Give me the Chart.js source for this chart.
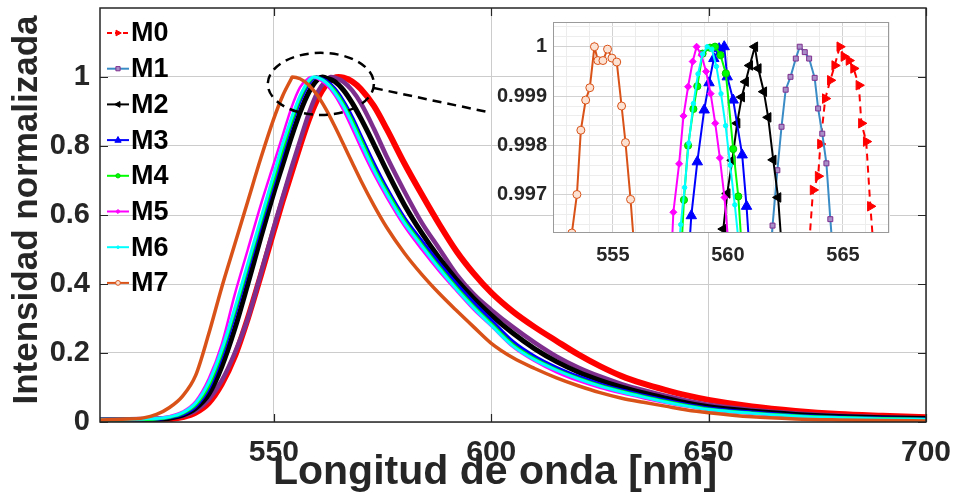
<!DOCTYPE html>
<html><head><meta charset="utf-8">
<script src="https://cdn.jsdelivr.net/npm/chart.js@4.4.1/dist/chart.umd.min.js"></script>
<style>
html,body{margin:0;padding:0;background:#fff;}
#wrap{position:relative;width:955px;height:497px;overflow:hidden;}
#main{position:absolute;left:0;top:0;}
#inset{position:absolute;left:480px;top:10px;}
</style></head><body>
<div id="wrap">
<canvas id="main" width="955" height="497"></canvas>
<canvas id="inset" width="420" height="270"></canvas>
</div>
<script>
// ---------------- DATA ----------------
const seriesNames = ['M0','M1','M2','M3','M4','M5','M6','M7'];
const wavelength = [510,515,520,523,526,529,532,535,538,541,544,547,550,552,554,556,558,560,562,564,566,568,570,573,576,580,584,588,592,596,600,605,610,615,620,625,630,635,640,645,650,660,670,680,690,700];
const m0 = [.005,.005,.005,.006,.008,.014,.027,.055,.11,.19,.30,.425,.555,.64,.72,.80,.875,.935,.977,.998,.998,.987,.965,.916,.848,.75,.66,.574,.495,.43,.375,.32,.275,.235,.196,.162,.133,.111,.093,.077,.064,.045,.032,.023,.018,.014];
const m1 = [.008,.008,.009,.01,.012,.018,.033,.065,.12,.2,.30,.43,.565,.65,.735,.815,.893,.955,.99,.998,.986,.961,.924,.85,.768,.669,.578,.503,.428,.37,.325,.275,.23,.19,.158,.132,.11,.092,.076,.062,.05,.035,.025,.018,.014,.011];
const m2 = [.005,.005,.006,.007,.011,.02,.04,.08,.16,.27,.40,.535,.665,.745,.825,.897,.955,.992,.997,.987,.962,.925,.88,.805,.727,.63,.548,.476,.413,.358,.31,.257,.212,.175,.145,.121,.101,.084,.069,.055,.044,.031,.022,.016,.012,.01];
const m3 = [.006,.006,.007,.008,.013,.022,.045,.097,.19,.31,.44,.57,.695,.78,.86,.93,.98,.9995,.989,.966,.93,.884,.83,.75,.677,.592,.525,.46,.40,.345,.295,.233,.19,.158,.132,.11,.092,.077,.063,.05,.04,.028,.019,.014,.011,.009];
const m4 = [.006,.006,.007,.009,.014,.025,.05,.105,.20,.32,.45,.58,.705,.79,.868,.938,.985,.999,.986,.96,.922,.874,.82,.738,.668,.584,.515,.45,.39,.335,.285,.224,.183,.152,.127,.106,.089,.074,.06,.048,.038,.026,.018,.013,.01,.008];
const m5 = [.008,.008,.009,.011,.017,.03,.06,.125,.225,.37,.50,.63,.75,.83,.91,.97,.997,.995,.978,.947,.903,.85,.795,.718,.65,.568,.50,.437,.38,.325,.278,.217,.176,.144,.119,.099,.083,.069,.056,.045,.035,.024,.016,.011,.008,.006];
const m6 = [.008,.008,.009,.010,.015,.027,.055,.115,.21,.33,.46,.59,.72,.805,.88,.945,.99,.998,.984,.955,.915,.865,.81,.73,.66,.577,.51,.445,.385,.33,.28,.22,.18,.15,.125,.104,.087,.072,.058,.046,.036,.025,.017,.012,.009,.007];
const m7 = [.006,.008,.012,.022,.042,.075,.135,.255,.39,.515,.64,.765,.88,.945,.995,.995,.977,.947,.906,.857,.805,.752,.70,.628,.563,.49,.428,.373,.323,.275,.228,.186,.155,.128,.105,.085,.069,.057,.046,.035,.027,.015,.009,.006,.004,.003];
const peakWavelength = [564.86,563.12,561.17,559.84,559.44,558.64,559.1,554.2];
const xTicksMain = [550,600,650,700];
const yTicksMain = [0,0.2,0.4,0.6,0.8,1];
const yTickLabelsMain = ['0','0.2','0.4','0.6','0.8','1'];

// inset (zoom near the peaks)
const insetM0x = [563.50,563.70,563.92,564.02,564.23,564.45,564.64,564.86,565.04,565.26,565.46,565.69,565.80,566.01,566.19,566.35];
const insetM0y = [0.9958,0.9971,0.99738,0.99803,0.99895,0.99932,0.99962,1.0,0.9998,0.99972,0.99956,0.99922,0.99845,0.99808,0.99677,0.9958];
const insetM1x = [561.80,561.94,562.15,562.33,562.51,562.72,562.95,563.12,563.34,563.53,563.77,563.92,564.10,564.28,564.45,564.60];
const insetM1y = [0.9955,0.99638,0.9975,0.99838,0.99913,0.99939,0.99976,1.0,0.99989,0.99976,0.99937,0.99875,0.99824,0.99764,0.99651,0.9956];
const insetM2x = [559.80,559.97,560.19,560.40,560.60,560.77,560.95,561.17,561.32,561.56,561.75,561.97,562.18,562.36];
const insetM2y = [0.99631,0.99703,0.9977,0.99845,0.99898,0.99929,0.99962,1.0,0.99956,0.99909,0.99857,0.99771,0.99695,0.9958];
const insetM3x = [558.30,558.41,558.67,558.97,559.18,559.39,559.62,559.84,559.97,560.23,560.62,560.81,560.95];
const insetM3y = [0.9958,0.99658,0.99767,0.99872,0.99927,0.99976,0.99996,1.0,0.99939,0.99892,0.99781,0.99677,0.9958];
const insetM4x = [557.97,558.09,558.27,558.50,558.67,558.90,559.22,559.44,559.68,559.91,560.23,560.45,560.62];
const insetM4y = [0.9958,0.9969,0.9980,0.99874,0.9992,0.99986,0.99998,1.0,0.99983,0.99946,0.99793,0.99697,0.9958];
const insetM5x = [557.55,557.63,557.88,558.07,558.27,558.47,558.64,558.85,559.05,559.25,559.45,559.65,559.85,560.10];
const insetM5y = [0.9958,0.99665,0.99763,0.9986,0.99919,0.9997,1.0,0.99983,0.9995,0.99905,0.99845,0.99775,0.99695,0.9956];
const insetM6x = [557.85,557.95,558.12,558.30,558.50,558.70,558.90,559.10,559.30,559.50,559.70,559.90,560.10,560.30,560.50];
const insetM6y = [0.9958,0.9964,0.99715,0.99805,0.99885,0.99945,0.99985,1.0,0.99995,0.9996,0.99905,0.9984,0.9976,0.9968,0.9959];
const insetM7x = [553.22,553.44,553.61,553.82,554.00,554.20,554.35,554.57,554.77,554.96,555.17,555.38,555.55,555.77,555.95];
const insetM7y = [0.99623,0.99701,0.99831,0.99892,0.99917,1.0,0.99972,0.99972,0.99995,0.99977,0.99969,0.9988,0.99806,0.99691,0.9958];
const xTicksInset = [555,560,565];
const yTicksInset = [0.997,0.998,0.999,1];
const yTickLabelsInset = ['0.997','0.998','0.999','1'];

// ---------------- STYLE ----------------
const FONT = '"Liberation Sans", Arial, Helvetica, sans-serif';
Chart.defaults.font.family = FONT;
const colors = ['#ff0000','#7e2f8e','#000000','#0000ff','#00ff00','#ff00ff','#00ffff','#d95319'];
const mainWidths = [6,4.5,5,3.5,3,2.5,3,3.5];
const insetLineColors = ['#ff0000','#3a8cc6','#000000','#0000ff','#00ff00','#ff00ff','#00ffff','#d95319'];
const markerStyles = [
  {s:'triangle', rot:90, r:5.5, fill:'#ff0000', stroke:'#ff0000'},
  {s:'rect', rot:0, r:3.5, fill:'#a98fc8', stroke:'#7e2f8e'},
  {s:'triangle', rot:-90, r:5.5, fill:'#000000', stroke:'#000000'},
  {s:'triangle', rot:0, r:6, fill:'#0000ff', stroke:'#0000ff'},
  {s:'circle', rot:0, r:3.6, fill:'#00ff00', stroke:'#00cc00'},
  {s:'rectRot', rot:0, r:3.5, fill:'#ff00ff', stroke:'#ff00ff'},
  {s:'circle', rot:0, r:2.2, fill:'#00ffff', stroke:'#00ffff'},
  {s:'circle', rot:0, r:4, fill:'#fbe2d3', stroke:'#d95319'}
];

function drawMarker(ctx, m, x, y, scale){
  const r = m.r * (scale||1);
  ctx.save(); ctx.translate(x,y); ctx.rotate(m.rot*Math.PI/180);
  ctx.beginPath();
  if(m.s==='circle'){ctx.arc(0,0,r,0,2*Math.PI);}
  else if(m.s==='rect'){ctx.rect(-r,-r,2*r,2*r);}
  else if(m.s==='rectRot'){ctx.moveTo(0,-r);ctx.lineTo(r,0);ctx.lineTo(0,r);ctx.lineTo(-r,0);ctx.closePath();}
  else {ctx.moveTo(0,-r);ctx.lineTo(r*0.87,r*0.6);ctx.lineTo(-r*0.87,r*0.6);ctx.closePath();}
  ctx.fillStyle=m.fill; ctx.fill(); ctx.strokeStyle=m.stroke; ctx.lineWidth=1; ctx.stroke();
  ctx.restore();
}

// ---------------- MAIN CHART ----------------
const mainSeries = [m0,m1,m2,m3,m4,m5,m6,m7];
function buildMain(i){
  const pts = wavelength.map((x,k)=>({x:x, y:mainSeries[i][k]}));
  pts.push({x:peakWavelength[i], y:1});
  pts.sort((a,b)=>a.x-b.x);
  return pts;
}

const zoomEllipse = {cx:560.8, cy:0.98, rx:12.2, ry:0.09};
const zoomConnector = {x1:573.0, y1:0.968, x2:599.0, y2:0.899};

const mainDeco = {
  id:'mainDeco',
  afterDraw(chart){
    const ctx = chart.ctx, a = chart.chartArea, xs = chart.scales.x, ys = chart.scales.y;
    ctx.save();
    ctx.strokeStyle='#262626'; ctx.lineWidth=1.2;
    xTicksMain.forEach(v=>{const px=Math.round(xs.getPixelForValue(v))+0.5;
      ctx.beginPath();ctx.moveTo(px,a.bottom);ctx.lineTo(px,a.bottom-8);ctx.moveTo(px,a.top);ctx.lineTo(px,a.top+8);ctx.stroke();});
    yTicksMain.forEach(v=>{const py=Math.round(ys.getPixelForValue(v))+0.5;
      ctx.beginPath();ctx.moveTo(a.left,py);ctx.lineTo(a.left+8,py);ctx.moveTo(a.right,py);ctx.lineTo(a.right-8,py);ctx.stroke();});
    ctx.lineWidth=1.5; ctx.strokeStyle='#262626';
    ctx.strokeRect(a.left,a.top,a.right-a.left,a.bottom-a.top);
    ctx.setLineDash([9,6]); ctx.lineWidth=2.5; ctx.strokeStyle='#000';
    const cx=xs.getPixelForValue(zoomEllipse.cx), cy=ys.getPixelForValue(zoomEllipse.cy);
    const rx=xs.getPixelForValue(zoomEllipse.cx+zoomEllipse.rx)-cx, ry=cy-ys.getPixelForValue(zoomEllipse.cy+zoomEllipse.ry);
    ctx.beginPath(); ctx.ellipse(cx,cy,rx,ry,0,0,2*Math.PI); ctx.stroke();
    ctx.beginPath(); ctx.moveTo(xs.getPixelForValue(zoomConnector.x1), ys.getPixelForValue(zoomConnector.y1));
    ctx.lineTo(xs.getPixelForValue(zoomConnector.x2), ys.getPixelForValue(zoomConnector.y2)); ctx.stroke();
    ctx.setLineDash([]);
    seriesNames.forEach((n,i)=>{
      const y = 33 + i*35.7;
      ctx.strokeStyle = insetLineColors[i]; ctx.lineWidth=2;
      if(i===0) ctx.setLineDash([5,3]); else ctx.setLineDash([]);
      ctx.beginPath(); ctx.moveTo(107,y); ctx.lineTo(129,y); ctx.stroke();
      ctx.setLineDash([]);
      drawMarker(ctx, markerStyles[i], 118, y, 0.6);
      ctx.fillStyle='#000'; ctx.font='bold 27px '+FONT; ctx.textAlign='left'; ctx.textBaseline='middle';
      ctx.fillText(n, 131, y+1);
    });
    ctx.fillStyle='#262626';
    ctx.font='bold 41px '+FONT; ctx.textAlign='center'; ctx.textBaseline='alphabetic';
    ctx.fillText('Longitud de onda [nm]', 495, 484);
    ctx.translate(27,210); ctx.rotate(-Math.PI/2);
    ctx.font='bold 35px '+FONT; ctx.textBaseline='middle';
    ctx.fillText('Intensidad normalizada', 0, 0);
    ctx.restore();
  }
};

new Chart(document.getElementById('main'), {
  type:'line',
  data:{datasets: seriesNames.map((n,i)=>({
    label:n, data:buildMain(i), borderColor:colors[i], backgroundColor:colors[i],
    borderWidth:mainWidths[i], pointRadius:0, cubicInterpolationMode:'monotone', fill:false, order:7-i
  }))},
  options:{
    responsive:false, animation:false, devicePixelRatio:1,
    layout:{padding:{top:8,right:29,left:0,bottom:0}},
    plugins:{legend:{display:false}, tooltip:{enabled:false}},
    scales:{
      x:{type:'linear', min:510, max:700,
        afterBuildTicks:s=>{s.ticks = xTicksMain.map(v=>({value:v}));},
        afterFit:s=>{s.height=75; s.paddingLeft=0; s.paddingRight=0;},
        ticks:{font:{size:30,weight:'bold'}, color:'#262626', padding:13, maxRotation:0, autoSkip:false, callback:v=>String(v)},
        grid:{color:'#cccccc', drawTicks:false, lineWidth:1}, border:{display:false}},
      y:{type:'linear', min:0, max:1.2,
        afterBuildTicks:s=>{s.ticks = yTicksMain.map(v=>({value:v}));},
        afterFit:s=>{s.width=100; s.paddingTop=0; s.paddingBottom=0;},
        ticks:{font:{size:29,weight:'bold'}, color:'#262626', padding:10, autoSkip:false, callback:(v,i)=>yTickLabelsMain[i]},
        grid:{color:'#cccccc', drawTicks:false, lineWidth:1}, border:{display:false}}
    }
  },
  plugins:[mainDeco]
});

// ---------------- INSET CHART ----------------
const insetX = [insetM0x,insetM1x,insetM2x,insetM3x,insetM4x,insetM5x,insetM6x,insetM7x];
const insetY = [insetM0y,insetM1y,insetM2y,insetM3y,insetM4y,insetM5y,insetM6y,insetM7y];
const near = (a,b,e)=>Math.abs(a-b)<e;

const insetDeco = {
  id:'insetDeco',
  beforeDraw(chart){
    const ctx=chart.ctx,a=chart.chartArea; ctx.save(); ctx.fillStyle='#fff';
    ctx.fillRect(a.left,a.top,a.right-a.left,a.bottom-a.top); ctx.restore();
  },
  afterDraw(chart){
    const ctx=chart.ctx,a=chart.chartArea; ctx.save(); ctx.strokeStyle='#9a9a9a'; ctx.lineWidth=1;
    ctx.strokeRect(a.left+0.5,a.top+0.5,a.right-a.left-1,a.bottom-a.top-1); ctx.restore();
  }
};

new Chart(document.getElementById('inset'), {
  type:'line',
  data:{datasets: seriesNames.map((n,i)=>({
    label:n, data: insetX[i].map((x,k)=>({x:x,y:insetY[i][k]})),
    borderColor:insetLineColors[i], borderWidth:2, borderDash: i===0?[7,5]:[],
    pointStyle:markerStyles[i].s, rotation:markerStyles[i].rot, pointRadius:markerStyles[i].r,
    pointBackgroundColor:markerStyles[i].fill, pointBorderColor:markerStyles[i].stroke, pointBorderWidth:1,
    tension:0, fill:false, order:7-i
  }))},
  options:{
    responsive:false, animation:false, devicePixelRatio:1,
    layout:{padding:{top:12,right:11,left:0,bottom:0}},
    plugins:{legend:{display:false}, tooltip:{enabled:false}},
    scales:{
      x:{type:'linear', min:552.4, max:567,
        afterBuildTicks:s=>{const t=[]; for(let v=553; v<=567; v++) t.push({value:v}); s.ticks=t;},
        afterFit:s=>{s.height=47; s.paddingLeft=0; s.paddingRight=0;},
        ticks:{font:{size:20,weight:'bold'}, color:'#262626', padding:10, maxRotation:0, autoSkip:false,
          callback:v=>{const k=xTicksInset.findIndex(t=>near(t,v,1e-6)); return k>=0?String(xTicksInset[k]):'';}},
        grid:{drawTicks:false, lineWidth:1, color:c=>xTicksInset.some(t=>near(t,c.tick.value,1e-6))?'#d2d2d2':'#ededed'},
        border:{display:false}},
      y:{type:'linear', min:0.99623, max:1.0005,
        afterBuildTicks:s=>{const t=[]; for(let k=0;k<=20;k++) t.push({value:0.9964+k*0.0002}); s.ticks=t;},
        afterFit:s=>{s.width=73; s.paddingTop=0; s.paddingBottom=0;},
        ticks:{font:{size:20,weight:'bold'}, color:'#262626', padding:6, autoSkip:false,
          callback:v=>{const k=yTicksInset.findIndex(t=>near(t,v,1e-7)); return k>=0?yTickLabelsInset[k]:'';}},
        grid:{drawTicks:false, lineWidth:1, color:c=>yTicksInset.some(t=>near(t,c.tick.value,1e-7))?'#d2d2d2':'#ededed'},
        border:{display:false}}
    }
  },
  plugins:[insetDeco]
});
</script>
</body></html>
